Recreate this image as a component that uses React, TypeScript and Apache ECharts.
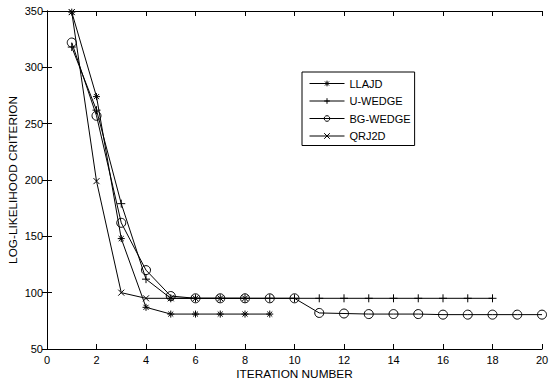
import React, { useEffect, useRef } from "react";
import * as echarts from "echarts";

const iterations = [1, 2, 3, 4, 5, 6, 7, 8, 9, 10, 11, 12, 13, 14, 15, 16, 17, 18, 19, 20];
const llajd = [349, 274, 148, 87, 81, 81, 81, 81, 81];
const uWedge = [318, 262, 179, 112, 95, 95, 95, 95, 95, 95, 95, 95, 95, 95, 95, 95, 95, 95];
const bgWedge = [322, 257, 162, 120, 97, 95, 95, 95, 95, 95, 82, 81.5, 81, 81, 81, 80.5, 80.5, 80.5, 80.5, 80.5];
const qrj2d = [349, 199, 100, 95, 95, 95, 95, 95];
const seriesNames = ["LLAJD", "U-WEDGE", "BG-WEDGE", "QRJ2D"];

const FONT = "'Liberation Sans', Arial, sans-serif";

const SYM_ASTERISK = "path://M0,-1L0,1M-1,0L1,0M-0.72,-0.72L0.72,0.72M-0.72,0.72L0.72,-0.72";
const SYM_PLUS = "path://M0,-1L0,1M-1,0L1,0";
const SYM_CROSS = "path://M-1,-1L1,1M-1,1L1,-1";

function toPairs(vals: number[]) {
  return vals.map((v, i) => [iterations[i], v]);
}

export default function App() {
  const ref = useRef<HTMLDivElement>(null);
  useEffect(() => {
    if (!ref.current) return;
    const chart = echarts.init(ref.current, null, { renderer: "svg" });
    const mk = (name: string, vals: number[], symbol: string, size: number) => ({
      name,
      type: "line",
      data: toPairs(vals),
      symbol,
      symbolSize: size,
      showSymbol: true,
      lineStyle: { color: "#000", width: 1 },
      itemStyle: { color: "rgba(0,0,0,0)", borderColor: "#000", borderWidth: 1 },
      emphasis: { disabled: true },
    });
    const axisCommon = {
      type: "value",
      axisLine: { show: true, lineStyle: { color: "#000", width: 1 } },
      axisTick: { show: true, inside: true, length: 5, lineStyle: { color: "#000" } },
      splitLine: { show: false },
    };
    chart.setOption({
      animation: false,
      backgroundColor: "#fff",
      textStyle: { fontFamily: FONT },
      grid: {
        left: 47,
        right: 10,
        top: 11,
        bottom: 34,
        show: false,
        containLabel: false,
        outerBoundsMode: "none",
      },
      legend: {
        orient: "vertical",
        left: 302,
        top: 72,
        data: seriesNames,
        itemWidth: 35,
        itemHeight: 7,
        itemGap: 6.5,
        padding: [6, 4, 4, 7],
        borderColor: "#000",
        borderWidth: 1,
        backgroundColor: "#fff",
        itemStyle: { borderWidth: 1, borderColor: "#000", color: "rgba(0,0,0,0)" },
        lineStyle: { width: 1, color: "#000" },
        textStyle: { fontFamily: FONT, fontSize: 11, color: "#000" },
        selectedMode: false,
      },
      xAxis: [
        {
          ...axisCommon,
          position: "bottom",
          min: 0,
          max: 20,
          interval: 2,
          name: "ITERATION NUMBER",
          nameLocation: "middle",
          nameGap: 19,
          nameMoveOverlap: false,
          nameTextStyle: { fontFamily: FONT, fontSize: 11.8, color: "#000" },
          axisLabel: { margin: 5, fontFamily: FONT, fontSize: 11, color: "#000" },
        },
        {
          ...axisCommon,
          position: "top",
          min: 0,
          max: 20,
          interval: 2,
          axisLabel: { show: false },
        },
      ],
      yAxis: [
        {
          ...axisCommon,
          position: "left",
          min: 50,
          max: 350,
          interval: 50,
          name: "LOG-LIKELIHOOD CRITERION",
          nameLocation: "middle",
          nameGap: 28.5,
          nameMoveOverlap: false,
          nameTextStyle: { fontFamily: FONT, fontSize: 11.8, color: "#000" },
          axisLabel: { margin: 4, fontFamily: FONT, fontSize: 11, color: "#000" },
        },
        {
          ...axisCommon,
          position: "right",
          min: 50,
          max: 350,
          interval: 50,
          axisLabel: { show: false },
        },
      ],
      series: [
        mk("LLAJD", llajd, SYM_ASTERISK, 7),
        mk("U-WEDGE", uWedge, SYM_PLUS, 8),
        mk("BG-WEDGE", bgWedge, "circle", 9),
        mk("QRJ2D", qrj2d, SYM_CROSS, 6),
      ],
    });
    return () => chart.dispose();
  }, []);
  return <div ref={ref} style={{ width: 552, height: 383, position: "absolute", left: 0, top: 0 }} />;
}
